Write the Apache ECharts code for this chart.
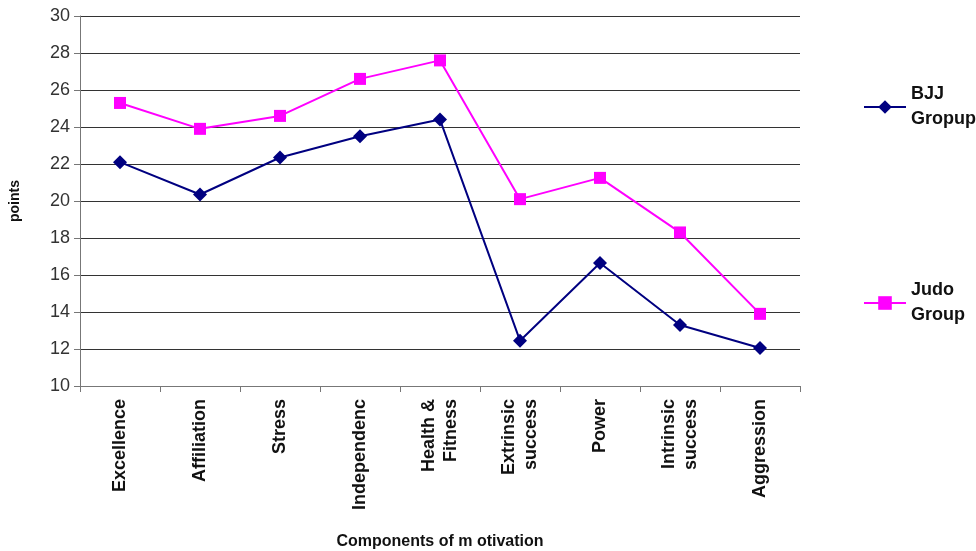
<!DOCTYPE html>
<html><head><meta charset="utf-8">
<script src="https://cdn.jsdelivr.net/npm/echarts@6/dist/echarts.min.js"></script>
<style>html,body{margin:0;padding:0;background:#fff}#c{width:976px;height:551px}</style>
</head><body><div id="c"></div>
<script>
var categories = ['Excellence','Affiliation','Stress','Independenc','Health &\nFitness','Extrinsic\nsuccess','Power','Intrinsic\nsuccess','Aggression'];
var bjj = [22.1, 20.35, 22.35, 23.5, 24.4, 12.45, 16.65, 13.3, 12.05];
var judo = [25.3, 23.9, 24.6, 26.6, 27.6, 20.1, 21.25, 18.3, 13.9];
var seriesNames = ['BJJ\nGropup', 'Judo\nGroup'];
var yTicks = {min: 10, max: 30, interval: 2};

var chart = echarts.init(document.getElementById('c'));
var legendText = {fontFamily: 'Liberation Sans, Arial', fontSize: 18, fontWeight: 'bold', color: '#111', lineHeight: 25};
chart.setOption({
  animation: false,
  grid: {left: 80, right: 176, top: 16, bottom: 165, containLabel: false, outerBoundsMode: 'none'},
  legend: [
    {data: [seriesNames[0]], left: 858, top: 77, itemWidth: 42, itemHeight: 17, itemGap: 4, textStyle: legendText},
    {data: [seriesNames[1]], left: 858, top: 273, itemWidth: 42, itemHeight: 17, itemGap: 4, textStyle: legendText}
  ],
  xAxis: {
    type: 'category', data: categories, boundaryGap: true,
    name: 'Components of m otivation', nameLocation: 'middle', nameGap: 148,
    nameTextStyle: {fontFamily: 'Liberation Sans, Arial', fontSize: 16, fontWeight: 'bold', color: '#111'},
    axisLine: {lineStyle: {color: '#777', width: 1}},
    axisTick: {show: true, length: 6, lineStyle: {color: '#777'}},
    axisLabel: {rotate: 90, interval: 0, margin: 13, fontFamily: 'Liberation Sans, Arial', fontSize: 18, fontWeight: 'bold', color: '#111', lineHeight: 22}
  },
  yAxis: {
    type: 'value', min: yTicks.min, max: yTicks.max, interval: yTicks.interval,
    name: 'points', nameLocation: 'middle', nameGap: 58, nameRotate: 90,
    nameTextStyle: {fontFamily: 'Liberation Sans, Arial', fontSize: 14, fontWeight: 'bold', color: '#111'},
    axisLine: {show: true, lineStyle: {color: '#777', width: 1}},
    axisTick: {show: true, length: 6, lineStyle: {color: '#777'}},
    axisLabel: {margin: 10, fontFamily: 'Liberation Sans, Arial', fontSize: 18, color: '#333'},
    splitLine: {lineStyle: {color: '#333', width: 1.2}}
  },
  series: [
    {name: seriesNames[0], type: 'line', data: bjj, symbol: 'diamond', symbolSize: 14,
     lineStyle: {color: '#000080', width: 2}, itemStyle: {color: '#000080'}},
    {name: seriesNames[1], type: 'line', data: judo, symbol: 'rect', symbolSize: 12,
     lineStyle: {color: '#ff00ff', width: 2}, itemStyle: {color: '#ff00ff'}}
  ]
});
</script></body></html>
